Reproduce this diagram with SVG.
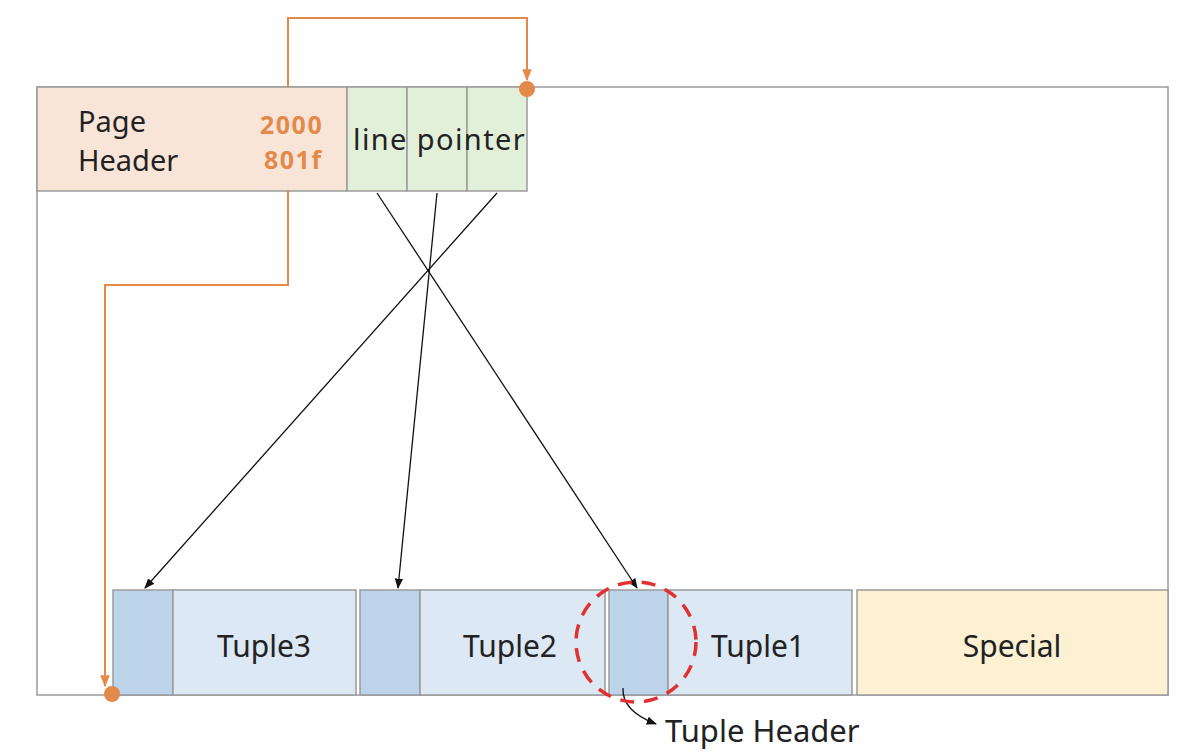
<svg xmlns="http://www.w3.org/2000/svg" width="1186" height="754" viewBox="0 0 1186 754">
<defs>
<style>
.t{font-family:"Noto Sans","Open Sans","DejaVu Sans",sans-serif;fill:#222}
.n{font-family:"Noto Sans","Open Sans",sans-serif;font-weight:bold;fill:#e38a4a;font-size:25px;letter-spacing:1.5px}
.o{stroke:#e38a4a;stroke-width:2;fill:none}
.b{stroke:#9a9a9a;stroke-width:1.5}
.k{stroke:#111;stroke-width:1.3;fill:none}
</style>
<marker id="ah" viewBox="0 0 10 10" refX="9" refY="5" markerWidth="8" markerHeight="8" orient="auto-start-reverse"><path d="M0,1 L10,5 L0,9 z" fill="#111"/></marker>
<marker id="oh" viewBox="0 0 10 10" refX="9" refY="5" markerWidth="6" markerHeight="6" orient="auto"><path d="M0,1 L10,5 L0,9 z" fill="#e38a4a"/></marker>
</defs>
<rect width="1186" height="754" fill="#fff"/>
<g id="page"><rect x="37" y="87" width="1131" height="608" fill="#fff" class="b"/></g>
<g id="pageheader">
<rect x="37" y="87" width="310" height="104" fill="#f9e5d8" class="b"/>
<text class="t" x="78" y="132" font-size="29">Page</text>
<text class="t" x="78" y="171" font-size="29">Header</text>
<text class="n" x="260" y="134">2000</text>
<text class="n" x="264" y="169">801f</text>
</g>
<g id="linepointer">
<rect x="347" y="87" width="60" height="104" fill="#e2efd9" class="b"/>
<rect x="407" y="87" width="60" height="104" fill="#e2efd9" class="b"/>
<rect x="467" y="87" width="60" height="104" fill="#e2efd9" class="b"/>
<text class="t" x="353" y="150" font-size="29" letter-spacing="1.4">line pointer</text>
</g>
<g id="tuple3">
<rect x="113" y="590" width="60" height="105" fill="#bcd3ea" class="b"/>
<rect x="173" y="590" width="183" height="105" fill="#dde8f5" class="b"/>
<text class="t" x="264" y="657" font-size="30" text-anchor="middle">Tuple3</text>
</g>
<g id="tuple2">
<rect x="360" y="590" width="60" height="105" fill="#bcd3ea" class="b"/>
<rect x="420" y="590" width="185" height="105" fill="#dde8f5" class="b"/>
<text class="t" x="510" y="657" font-size="30" text-anchor="middle">Tuple2</text>
</g>
<g id="tuple1">
<rect x="609" y="590" width="59" height="105" fill="#bcd3ea" class="b"/>
<rect x="668" y="590" width="184" height="105" fill="#dde8f5" class="b"/>
<text class="t" x="758" y="657" font-size="30" text-anchor="middle">Tuple1</text>
</g>
<g id="special">
<rect x="857" y="590" width="311" height="105" fill="#fdf0d3" class="b"/>
<text class="t" x="1012" y="657" font-size="30" text-anchor="middle">Special</text>
</g>
<g id="connectors">
<path class="o" d="M288,87 V18 H527 V80" marker-end="url(#oh)"/>
<circle cx="527" cy="89" r="8" fill="#e38a4a"/>
<path class="o" d="M288,191 V285 H105 V686" marker-end="url(#oh)"/>
<circle cx="112" cy="694" r="8" fill="#e38a4a"/>
<path class="k" d="M377,193 L637,588" marker-end="url(#ah)"/>
<path class="k" d="M437,193 L398,588" marker-end="url(#ah)"/>
<path class="k" d="M497,193 L145,588" marker-end="url(#ah)"/>
<path class="k" d="M623,688 C622,705 635,716 656,724" marker-end="url(#ah)"/>
</g>
<g id="tupleheader">
<circle cx="636" cy="642" r="60" fill="none" stroke="#e03030" stroke-width="3.5" stroke-dasharray="14 10"/>
<text class="t" x="665" y="742" font-size="31">Tuple Header</text>
</g>
</svg>
